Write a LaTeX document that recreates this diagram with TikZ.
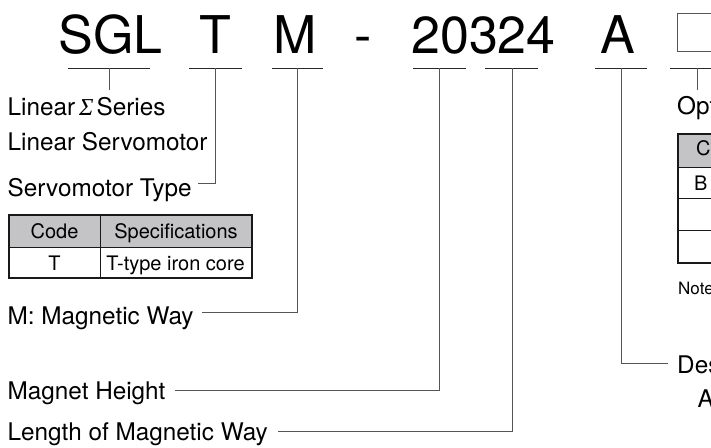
\documentclass[tikz,border=0pt]{standalone}
\usepackage{fontspec}
\setmainfont{TeX Gyre Heros}
\newfontfamily\sigmafont{Liberation Serif}
\definecolor{hdr}{RGB}{196,196,198}
\definecolor{ln}{RGB}{85,85,85}
\definecolor{ul}{RGB}{40,40,40}
\begin{document}
\begin{tikzpicture}[x=1pt,y=-1pt,
  big/.style={font=\fontsize{52}{52}\selectfont, inner sep=0, anchor=base},
  lbl/.style={font=\fontsize{24.3}{25}\selectfont, inner sep=0, anchor=base west},
  tbl/.style={font=\fontsize{20}{20}\selectfont, inner sep=0, anchor=base},
  tblw/.style={font=\fontsize{20}{20}\selectfont, inner sep=0, anchor=base west},
  note/.style={font=\fontsize{17}{17}\selectfont, inner sep=0, anchor=base west},
  conn/.style={draw=ln, line width=0.8pt},
  uline/.style={draw=ul, line width=0.9pt},
  outer/.style={draw=black!90, line width=1.6pt},
  inner/.style={draw=black!90, line width=0.8pt}]
\useasboundingbox (0,0) rectangle (711,447);
\clip (0,0) rectangle (711,447);
% code letters
\node[big] (sgl) at (110.5,53) {SGL};
\node[big] (t) at (215,53) {T};
\node[big] (m) at (295,53) {M};
\node[big] (dash) at (363,53) {-};
\node[big] (num) at (483.5,53) {20324};
\node[big] (a) at (617.5,53) {A};
\node[draw=ln, line width=1pt, minimum width=50, minimum height=38, anchor=north west, inner sep=0] (optbox) at (677,13) {};
% underlines
\coordinate (u1l) at (68,68);  \coordinate (u1r) at (150,68); \coordinate (u1m) at (109,68);
\coordinate (u2l) at (189,68); \coordinate (u2r) at (242,68); \coordinate (u2m) at (215,68);
\coordinate (u3l) at (272,68); \coordinate (u3r) at (323,68); \coordinate (u3m) at (297,68);
\coordinate (u4l) at (413,68); \coordinate (u4r) at (466,68); \coordinate (u4m) at (439,68);
\coordinate (u5l) at (485,68); \coordinate (u5r) at (538,68); \coordinate (u5m) at (512,68);
\coordinate (u6l) at (595,68); \coordinate (u6r) at (647,68); \coordinate (u6m) at (621,68);
\coordinate (u7l) at (670,68); \coordinate (u7r) at (720,68); \coordinate (u7m) at (697,68);
\foreach \i in {1,...,7} {\draw[uline] (u\i l) -- (u\i r);}
% labels
\node[lbl] (series) at (7.5,115) {Linear\hspace{4pt}{\sigmafont\itshape Σ}\hspace{3pt}Series};
\node[lbl] (lsm) at (7.5,150) {Linear Servomotor};
\node[lbl] (stype) at (7.5,196) {Servomotor Type};
\node[lbl] (mway) at (7.5,324) {M: Magnetic Way};
\node[lbl] (mh) at (7.5,399) {Magnet Height};
\node[lbl] (len) at (7.5,440) {Length of Magnetic Way};
\node[lbl] (opt) at (677,114) {Opt};
\node[lbl] (des) at (677,373) {Des};
\node[lbl] (desa) at (697.5,407) {A};
\node[note] (notes) at (678,294) {Note};
% connector ends
\coordinate (e1) at (109,90);
\coordinate (e2) at (198,183);
\coordinate (e3) at (202,312);
\coordinate (e4) at (175,390);
\coordinate (e5) at (278,431);
\coordinate (e6) at (668,363);
\coordinate (e7) at (697,90);
\draw[conn] (u1m) -- (e1);
\draw[conn] (u2m) |- (e2);
\draw[conn] (u3m) |- (e3);
\draw[conn] (u4m) |- (e4);
\draw[conn] (u5m) |- (e5);
\draw[conn] (u6m) |- (e6);
\draw[conn] (u7m) -- (e7);
% left table
\fill[hdr] (9,215) rectangle (252,247);
\draw[inner] (9,247) -- (252,247);
\draw[inner] (100,215) -- (100,278);
\draw[outer] (9,215) rectangle (252,278);
\node[tbl] (c1) at (54.5,238.5) {Code};
\node[tbl] (c2) at (176,238.5) {Specifications};
\node[tbl] (c3) at (54.5,270) {T};
\node[tbl] (c4) at (175.5,270) {T-type iron core};
% right table
\fill[hdr] (678,134) rectangle (730,167);
\draw[inner] (678,167) -- (730,167);
\draw[inner] (678,198) -- (730,198);
\draw[inner] (678,230) -- (730,230);
\draw[outer] (678,134) rectangle (730,263);
\node[tblw] (rc) at (696,155) {C};
\node[tblw] (rb) at (694,190) {B};
\end{tikzpicture}
\end{document}
